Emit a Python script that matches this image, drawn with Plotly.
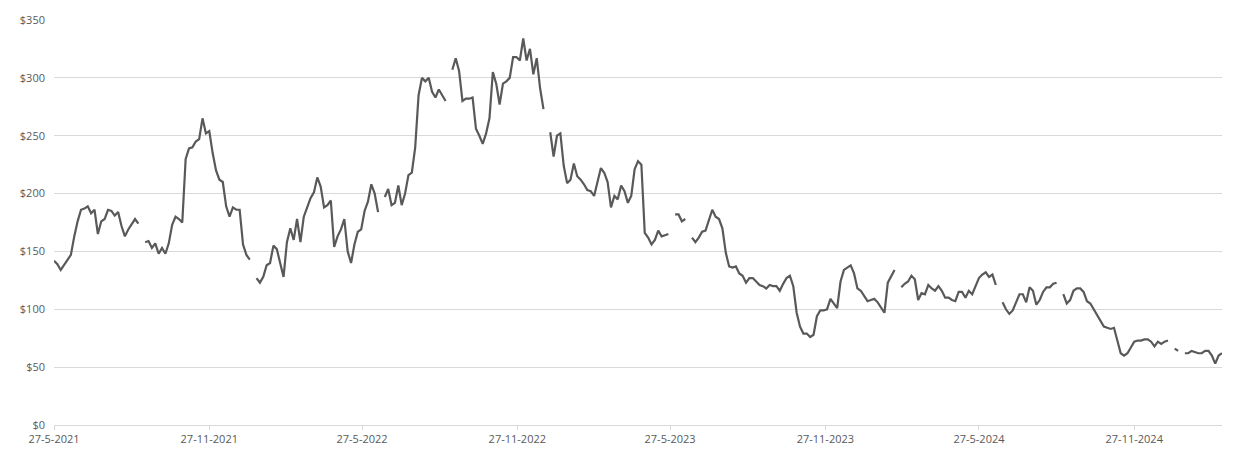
import pandas as pd
import plotly.graph_objects as go

# Closing price every 4 days from 27-5-2021 (None = missing value, line breaks)
prices_2021_22 = [
    142, 139, 134, 138, 142, 147, 163, 176, 186, 187,
    189, 183, 186, 165, 176, 178, 186, 185, 181, 184,
    172, 163, 169, 173, 178, 174, None, 158, 159, 153,
    157, 148, 153, 148, 157, 173, 180, 178, 175, 230,
    239, 240, 245, 247, 265, 252, 254, 235, 220, 212,
    210, 189, 180, 188, 186, 186, 156, 147, 143, None,
    127, 123, 128, 138, 140, 155, 152, 141, 128, 158,
    170, 160, 178, 158, 180, 188, 196, 201, 214, 206,
    188, 190, 194, 154, 163, 169, 178, 150, 140, 156,
    167, 169, 185, 193, 208, 200, 184, None, 197, 204,
    190, 192, 207, 190, 200, 216, 218, 240, 285,
]
prices_2022_23 = [
    300, 297, 300, 288, 283, 290, 285, 280, None, 307,
    317, 306, 280, 282, 282, 283, 256, 250, 243, 252,
    265, 305, 295, 277, 295, 297, 300, 318, 318, 315,
    334, 315, 325, 303, 317, 291, 273, None, 253, 232,
    250, 252, 224, 209, 212, 226, 215, 212, 208, 203,
    202, 198, 210, 222, 218, 210, 188, 198, 195, 207,
    202, 192, 198, 221, 228, 225, 166, 162, 156, 160,
    168, 163, 164, 165, None, 182, 182, 176, 178, None,
    162, 158, 162, 167, 168, 178, 186, 180, 178, 170,
    149, 137, 136, 137, 131, 129, 123, 127, 127, 124,
    121, 120, 118, 121, 120, 120, 116, 122, 127, 129,
    120, 97, 85, 79, 79, 76, 78, 94, 99,
]
prices_2023_25 = [
    99, 100, 109, 105, 101, 124, 134, 136, 138, 131,
    118, 116, 112, 107, 108, 109, 106, 102, 97, 123,
    129, 134, None, 119, 122, 124, 129, 126, 108, 114,
    113, 121, 118, 116, 120, 116, 110, 110, 108, 107,
    115, 115, 110, 116, 113, 120, 127, 130, 132, 128,
    130, 121, None, 106, 100, 96, 99, 106, 113, 113,
    106, 119, 116, 104, 108, 115, 119, 119, 122, 123,
    None, 113, 105, 108, 116, 118, 118, 115, 107, 105,
    100, 95, 90, 85, 84, 83, 84, 72, 62, 60,
    62, 67, 72, 73, 73, 74, 74, 72, 68, 72,
    70, 72, 73, None, 66, 64, None, 62, 62, 64,
    63, 62, 62, 64, 64, 60, 53, 60, 62,
]
prices = prices_2021_22 + prices_2022_23 + prices_2023_25
dates = pd.date_range('2021-05-27', periods=len(prices), freq='4D')

tick_dates = ['2021-05-27', '2021-11-27', '2022-05-27', '2022-11-27',
              '2023-05-27', '2023-11-27', '2024-05-27', '2024-11-27']
tick_labels = ['27-5-2021', '27-11-2021', '27-5-2022', '27-11-2022',
               '27-5-2023', '27-11-2023', '27-5-2024', '27-11-2024']

fig = go.Figure()
fig.add_trace(go.Scatter(
    x=dates,
    y=prices,
    mode='lines',
    line=dict(color='#595959', width=2.2),
    connectgaps=False,
    hoverinfo='x+y'
))

fig.update_layout(
    width=1235,
    height=458,
    margin=dict(l=54, r=13, t=20, b=31),
    paper_bgcolor='white',
    plot_bgcolor='white',
    showlegend=False,
    font=dict(family='Open Sans', size=11, color='#595959'),
    xaxis=dict(
        type='date',
        range=['2021-05-27', '2025-03-11'],
        tickvals=tick_dates,
        ticktext=tick_labels,
        ticks='outside',
        ticklen=4,
        tickcolor='#d9d9d9',
        showgrid=False,
        showline=True,
        linecolor='#d9d9d9',
        linewidth=1,
        zeroline=False
    ),
    yaxis=dict(
        range=[0, 350],
        dtick=50,
        tickprefix='$',
        showgrid=True,
        gridcolor='#d9d9d9',
        gridwidth=1,
        zeroline=False,
        showline=False,
        ticks='',
        ticklabelstandoff=8
    )
)

# drop the browser's default page margin so the chart sits at the window corner
fig.write_html('out.html', config={'displayModeBar': False},
               post_script="document.body.style.margin = '0';")
